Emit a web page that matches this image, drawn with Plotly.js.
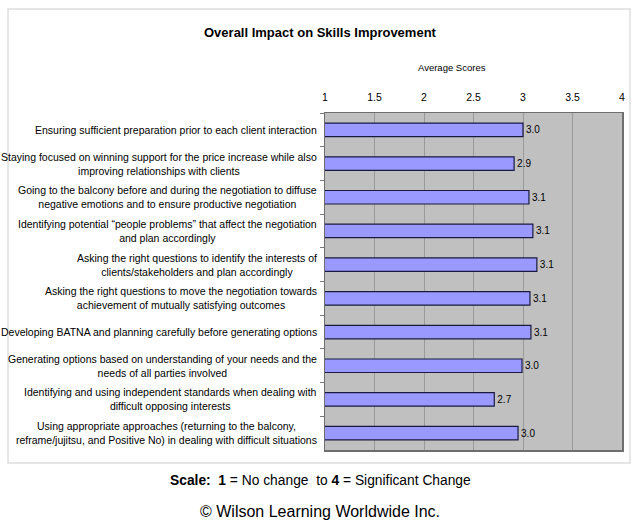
<!DOCTYPE html>
<html>
<head>
<meta charset="utf-8">
<script src="https://cdn.plot.ly/plotly-3.0.1.min.js"></script>
<style>
html,body{margin:0;padding:0;background:#fff;}
#chart{width:640px;height:530px;}
</style>
</head>
<body>
<div id="chart"></div>
<script>
var categories = [
  "Ensuring sufficient preparation prior to each client interaction",
  "Staying focused on winning support for the price increase while also<br>improving relationships with clients",
  "Going to the balcony before and during the negotiation to diffuse<br>negative emotions and to ensure productive negotiation",
  "Identifying potential \u201cpeople problems\u201d that affect the negotiation<br>and plan accordingly",
  "Asking the right questions to identify the interests of<br>clients/stakeholders and plan accordingly",
  "Asking the right questions to move the negotiation towards<br>achievement of mutually satisfying outcomes",
  "Developing BATNA and planning carefully before generating options",
  "Generating options based on understanding of your needs and the<br>needs of all parties involved",
  "Identifying and using independent standards when dealing with<br>difficult opposing interests",
  "Using appropriate approaches (returning to the balcony,<br>reframe/jujitsu, and Positive No) in dealing with difficult situations"
];
var scores = [3.00, 2.91, 3.06, 3.10, 3.14, 3.07, 3.08, 2.99, 2.71, 2.95];
var xTicks = [1, 1.5, 2, 2.5, 3, 3.5, 4];
var tickLabels = ["1", "1.5", "2", "2.5", "3", "3.5", "4"];

var FONT = "'Liberation Sans Narrow', 'Arial Narrow', 'Liberation Sans', Arial, sans-serif";

// plot area pixel geometry helpers (for frame/annotations in paper coords)
var L = 325, R = 622, T = 113, B = 450, W = 640, H = 530;
function px(x){ return (x - L) / (R - L); }
function py(y){ return (B - y) / (B - T); }

var trace = {
  type: "bar",
  orientation: "h",
  y: categories,
  x: scores,
  base: 0,
  marker: { color: "#9999ff", line: { color: "#1a1a40", width: 1.2 } },
  text: scores.map(function(v){ return v.toFixed(1); }),
  textposition: "outside",
  textfont: { family: FONT, size: 10, color: "#000" },
  cliponaxis: false,
  hoverinfo: "x+y"
};

var annotations = categories.map(function(c){
  return {
    xref: "paper", yref: "y", x: px(319), y: c,
    text: c, showarrow: false, xanchor: "right", yanchor: "middle", align: "center",
    font: { family: FONT, size: 10.5, color: "#000" }
  };
});
annotations.push({
  xref: "paper", yref: "paper", x: px(320), y: py(32),
  text: "<b>Overall Impact on Skills Improvement</b>", showarrow: false,
  xanchor: "center", yanchor: "middle",
  font: { family: FONT, size: 13, color: "#000" }
});
annotations.push({
  xref: "paper", yref: "paper", x: px(452), y: py(68),
  text: "Average Scores", showarrow: false,
  xanchor: "center", yanchor: "middle",
  font: { family: FONT, size: 9.5, color: "#000" }
});
annotations.push({
  xref: "paper", yref: "paper", x: px(320), y: py(480),
  text: "<b>Scale:</b>  <b>1</b> = No change  to <b>4</b> = Significant Change", showarrow: false,
  xanchor: "center", yanchor: "middle",
  font: { family: FONT, size: 13.8, color: "#000" }
});
annotations.push({
  xref: "paper", yref: "paper", x: px(320), y: py(511),
  text: "\u00a9 Wilson Learning Worldwide Inc.", showarrow: false,
  xanchor: "center", yanchor: "middle",
  font: { family: "'Liberation Sans', Arial, sans-serif", size: 16, color: "#000" }
});

var layout = {
  width: W, height: H,
  margin: { l: L, r: W - R, t: T, b: H - B, pad: 0 },
  paper_bgcolor: "#ffffff",
  plot_bgcolor: "#c0c0c0",
  showlegend: false,
  bargap: 0.6,
  xaxis: {
    side: "top",
    range: [1, 4],
    tickvals: xTicks,
    ticktext: tickLabels,
    showgrid: true,
    gridcolor: "#9a9a9a",
    gridwidth: 1,
    zeroline: false,
    showline: true,
    linecolor: "#6e6e6e",
    linewidth: 1.5,
    ticks: "",
    ticklabelstandoff: 6,
    tickfont: { family: FONT, size: 10.5, color: "#000" },
    mirror: true,
    fixedrange: true
  },
  yaxis: {
    type: "category",
    autorange: "reversed",
    showticklabels: false,
    ticks: "outside",
    tickson: "boundaries",
    ticklen: 4,
    tickcolor: "#7a7a7a",
    showline: true,
    linecolor: "#6e6e6e",
    linewidth: 1.5,
    mirror: true,
    showgrid: false,
    fixedrange: true
  },
  annotations: annotations,
  shapes: [{
    type: "rect", xref: "paper", yref: "paper", layer: "below",
    x0: px(8), x1: px(630), y0: py(463), y1: py(9),
    line: { color: "#dedede", width: 1.5 }, fillcolor: "rgba(0,0,0,0)"
  }]
};

Plotly.newPlot("chart", [trace], layout, { displayModeBar: false, staticPlot: true });
</script>
</body>
</html>
